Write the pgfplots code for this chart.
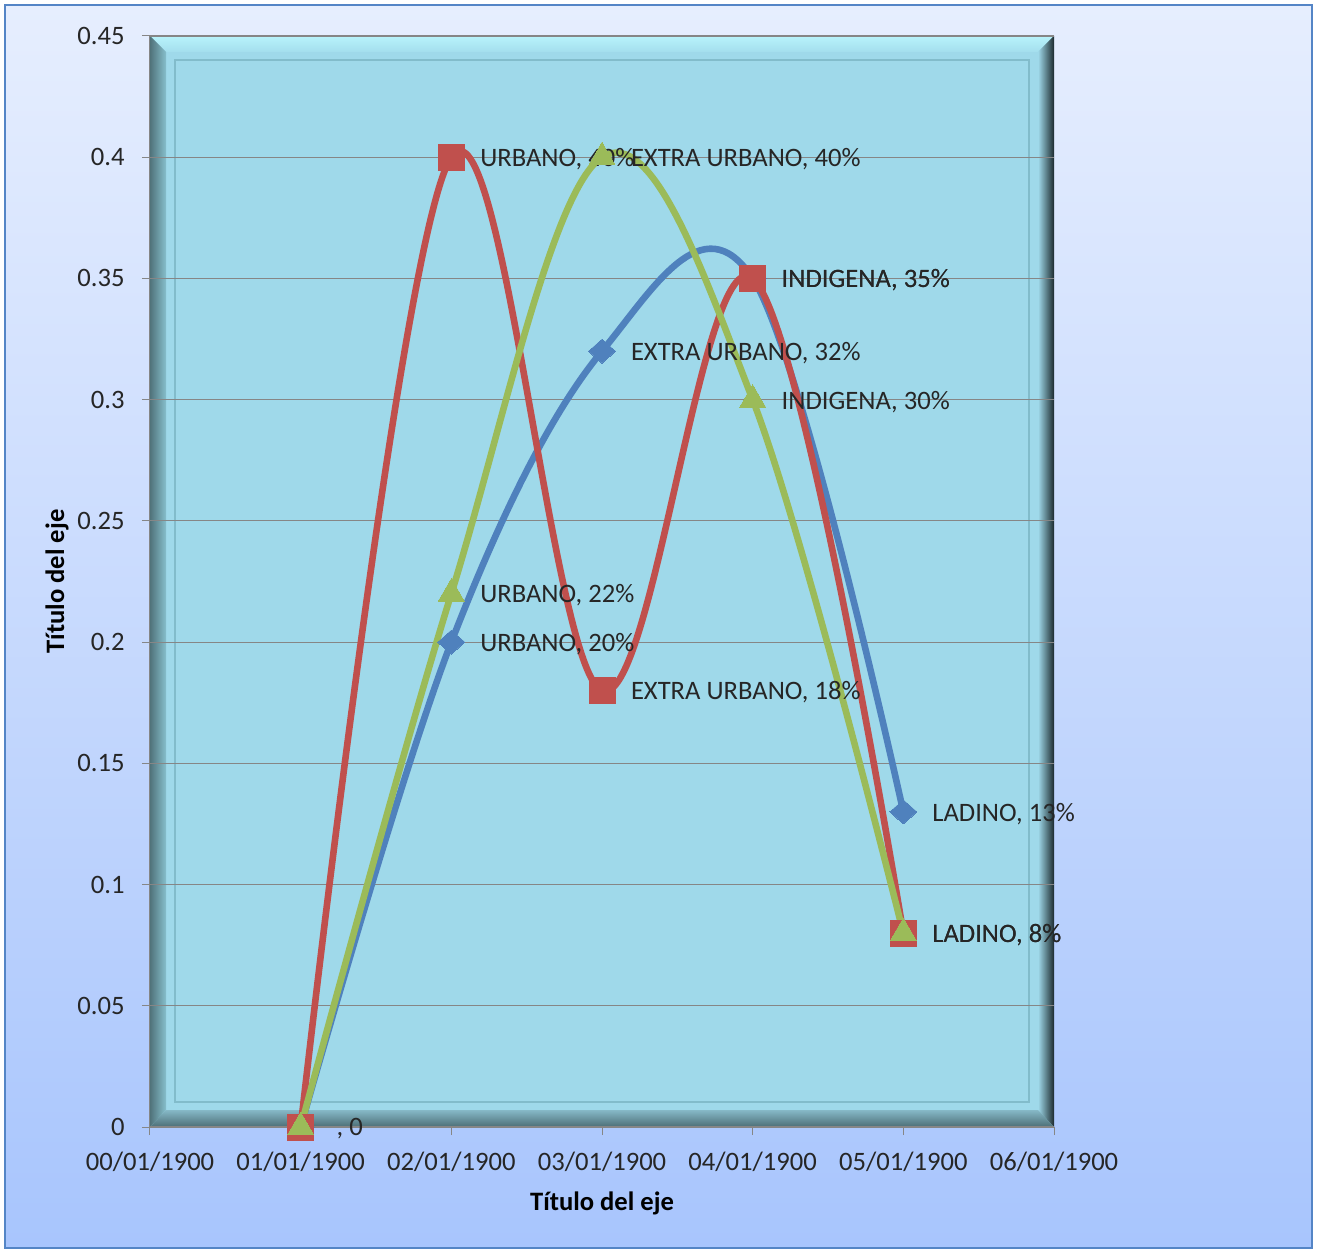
\documentclass[border=0pt]{standalone}
\usepackage{pgfplots}
\pgfplotsset{compat=1.18}
\usepackage{fontspec}
\setmainfont{Carlito}
\definecolor{ser1}{HTML}{4F81BD}
\definecolor{ser2}{HTML}{C0504D}
\definecolor{ser3}{HTML}{9BBB59}
\definecolor{bgtop}{HTML}{E6EEFE}
\definecolor{bgbot}{HTML}{A8C5FD}
\definecolor{bord}{HTML}{5485C6}
\definecolor{panel}{HTML}{9FD9EA}
\definecolor{bevtop}{HTML}{B8F3FB}
\definecolor{bevleft}{HTML}{86BFCC}
\definecolor{bevdark}{HTML}{1C2A2E}
\definecolor{bevbot}{HTML}{4C6E76}
\definecolor{innerl}{HTML}{82BCCB}
\definecolor{gridc}{HTML}{868686}
\newcommand{\fs}{\fontsize{13.3}{15}\selectfont}
\begin{document}
\begin{tikzpicture}
\fill[white] (-75pt,-62pt) rectangle (585pt,563.5pt);
\shade[top color=bgtop, bottom color=bgbot] (-72.5pt,-60.5pt) rectangle (581pt,561pt);
\draw[bord, line width=1.3pt] (-72.5pt,-60.5pt) rectangle (581pt,561pt);
% plot area panel with bevel
\fill[panel] (0pt,0pt) rectangle (452pt,545.5pt);
\shade[top color=bevtop, bottom color=panel!80!bevtop] (0pt,545.5pt) -- (452pt,545.5pt) -- (444pt,537.5pt) -- (8pt,537.5pt) -- cycle;
\shade[left color=bevleft!60!black, right color=bevleft] (0pt,0pt) -- (0pt,545.5pt) -- (8pt,537.5pt) -- (8pt,8.5pt) -- cycle;
\shade[left color=panel, right color=bevdark] (452pt,0pt) -- (452pt,545.5pt) -- (444pt,537.5pt) -- (444pt,8.5pt) -- cycle;
\shade[top color=panel!70!bevbot, bottom color=bevbot] (0pt,0pt) -- (452pt,0pt) -- (444pt,8.5pt) -- (8pt,8.5pt) -- cycle;
\draw[innerl, line width=0.7pt] (12.5pt,12.5pt) rectangle (439.5pt,533.5pt);
\begin{axis}[
  scale only axis, width=452pt, height=545.5pt,
  xmin=0, xmax=6, ymin=0, ymax=0.45,
  axis x line*=bottom, axis y line*=left,
  axis line style={draw=gridc, line width=0.5pt},
  xtick={0,1,2,3,4,5,6},
  xticklabels={00/01/1900,01/01/1900,02/01/1900,03/01/1900,04/01/1900,05/01/1900,06/01/1900},
  ytick={0,0.05,0.1,0.15,0.2,0.25,0.3,0.35,0.4,0.45},
  yticklabels={0,0.05,0.1,0.15,0.2,0.25,0.3,0.35,0.4,0.45},
  ymajorgrids, grid style={draw=gridc, line width=0.6pt},
  tick align=outside, major tick length=4pt,
  tick style={draw=gridc, line width=0.5pt},
  ticklabel style={font=\fs, text=black!85},
  /pgf/number format/assume math mode=true,
  xticklabel style={anchor=base, yshift=-17.5pt},
  yticklabel style={anchor=east, inner sep=0pt, xshift=-8.5pt},
  xlabel={\bfseries Título del eje},
  ylabel={\bfseries Título del eje},
  xlabel style={at={(axis description cs:0.5,-0.0697)}, anchor=center, font=\fs},
  ylabel style={at={(axis description cs:-0.1029,0.5)}, anchor=center, font=\fs},
  clip=false,
  point meta=explicit symbolic,
  nodes near coords,
  nodes near coords style={anchor=west, inner sep=0pt, xshift=14.5pt, yshift=-1pt, font=\fs, text=black!85},
  every axis plot/.append style={smooth, tension=0.6, line width=3.3pt},
]
\addplot[color=ser1, mark=diamond*, mark size=6pt, mark options={solid, line width=0pt, xscale=1.5}]
  coordinates {(1,0) [{\hspace{3.5pt}, 0}] (2,0.20) [{URBANO, 20\%}] (3,0.32) [{EXTRA URBANO, 32\%}] (4,0.35) [{INDIGENA, 35\%}] (5,0.13) [{LADINO, 13\%}]};
\addplot[color=ser2, mark=square*, mark size=6.5pt, mark options={solid, line width=0pt}]
  coordinates {(1,0) [] (2,0.40) [{URBANO, 40\%}] (3,0.18) [{EXTRA URBANO, 18\%}] (4,0.35) [{INDIGENA, 35\%}] (5,0.08) [{LADINO, 8\%}]};
\addplot[color=ser3, mark=triangle*, mark size=7.5pt, mark options={solid, line width=0pt}]
  coordinates {(1,0) [] (2,0.22) [{URBANO, 22\%}] (3,0.40) [{EXTRA URBANO, 40\%}] (4,0.30) [{INDIGENA, 30\%}] (5,0.08) [{LADINO, 8\%}]};
\end{axis}
\end{tikzpicture}
\end{document}
